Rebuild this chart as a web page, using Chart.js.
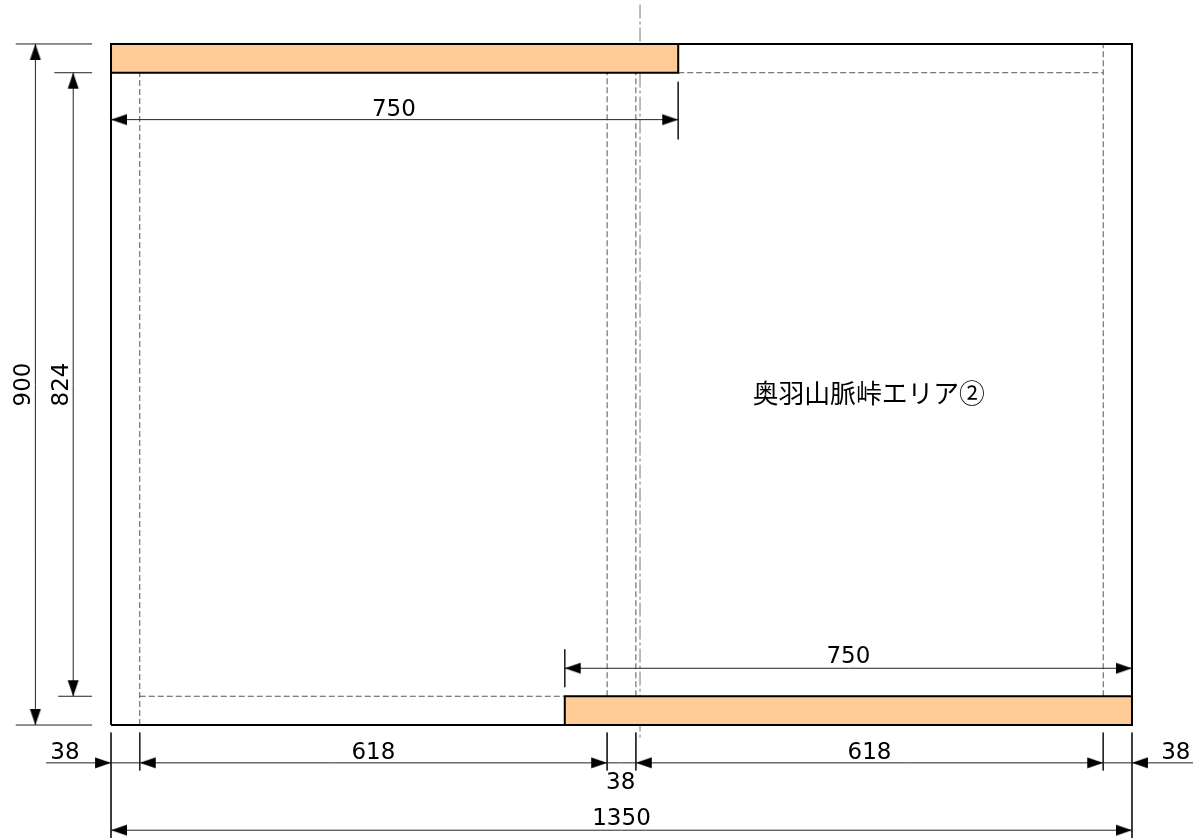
<!DOCTYPE html>
<html lang="ja">
<head>
<meta charset="utf-8">
<title>奥羽山脈峠エリア②</title>
<script src="https://cdn.jsdelivr.net/npm/chart.js@4/dist/chart.umd.min.js"></script>
<style>
    html, body { margin: 0; padding: 0; background: #fff; }
    canvas { display: block; }
</style>
</head>
<body>
<canvas id="plan" width="1193" height="838"></canvas>
<script>
// sizes, in mm
const totalWidth = 1350;
const totalHeight = 900;
const innerHeight_ = 824;
const flangeLength = 750;
const bayWidth = 618;
const edge = 38;
const areaName = '奥羽山脈峠エリア②';

const gapLeft = edge + bayWidth;
const gapRight = gapLeft + edge;
const rightInner = gapRight + bayWidth;
const topInner = edge + innerHeight_;
const centerLine = 699.5;

const seg = (x1, y1, x2, y2) => [{x: x1, y: y1}, {x: x2, y: y2}, {x: NaN, y: NaN}];
const path = (list) => list.flat();

const orangeTop = [
    {x: 0, y: topInner}, {x: flangeLength, y: topInner}, {x: flangeLength, y: totalHeight},
    {x: 0, y: totalHeight}, {x: 0, y: topInner},
];
const orangeBottom = [
    {x: totalWidth - flangeLength, y: 0}, {x: totalWidth, y: 0}, {x: totalWidth, y: edge},
    {x: totalWidth - flangeLength, y: edge}, {x: totalWidth - flangeLength, y: 0},
];
const outline = [
    {x: 0, y: 0}, {x: totalWidth, y: 0}, {x: totalWidth, y: totalHeight},
    {x: 0, y: totalHeight}, {x: 0, y: 0},
];

const hiddenLines = path([
    seg(edge, 0, edge, topInner),
    seg(edge, edge, totalWidth - flangeLength, edge),
    seg(flangeLength, topInner, rightInner, topInner),
    seg(rightInner, edge, rightInner, totalHeight),
    seg(gapLeft, edge, gapLeft, topInner),
    seg(gapRight, edge, gapRight, topInner),
]);
const chainLine = seg(centerLine, 952, centerLine, -20);

const dimLines = path([
    // left side
    seg(-100, 0, -100, totalHeight),
    seg(-126, totalHeight, -25, totalHeight),
    seg(-126, 0, -25, 0),
    seg(-50, edge, -50, topInner),
    seg(-75, topInner, -25, topInner),
    seg(-70, edge, -25, edge),
    // top and bottom 750
    seg(0, 800, flangeLength, 800),
    seg(flangeLength, 850, flangeLength, 774),
    seg(totalWidth - flangeLength, 75, totalWidth, 75),
    seg(totalWidth - flangeLength, 100, totalWidth - flangeLength, 50),
    // row under the plate
    seg(-86, -50, 1431, -50),
    seg(0, -10, 0, -150),
    seg(edge, -10, edge, -60),
    seg(gapLeft, -10, gapLeft, -60),
    seg(gapRight, -10, gapRight, -60),
    seg(rightInner, -10, rightInner, -60),
    seg(totalWidth, -10, totalWidth, -150),
    // overall width
    seg(0, -139, totalWidth, -139),
]);

const arrowPoints = [
    {x: -100, y: totalHeight, r: -90}, {x: -100, y: 0, r: 90},
    {x: -50, y: topInner, r: -90}, {x: -50, y: edge, r: 90},
    {x: 0, y: 800, r: 180}, {x: flangeLength, y: 800, r: 0},
    {x: totalWidth - flangeLength, y: 75, r: 180}, {x: totalWidth, y: 75, r: 0},
    {x: 0, y: -50, r: 0}, {x: edge, y: -50, r: 180},
    {x: gapLeft, y: -50, r: 0}, {x: gapRight, y: -50, r: 180},
    {x: rightInner, y: -50, r: 0}, {x: totalWidth, y: -50, r: 180},
    {x: 0, y: -139, r: 180}, {x: totalWidth, y: -139, r: 0},
];

// arrow head with its tip on the centre of the canvas, so the point sits on the tip
function makeArrow() {
    const c = document.createElement('canvas');
    c.width = 34;
    c.height = 34;
    const g = c.getContext('2d');
    g.fillStyle = '#000';
    g.beginPath();
    g.moveTo(17, 17);
    g.lineTo(1, 11.5);
    g.lineTo(1, 22.5);
    g.closePath();
    g.fill();
    return c;
}

const textLabels = [
    {text: String(flangeLength), x: flangeLength / 2 - 1, y: 812.5},
    {text: String(flangeLength), x: 975, y: 89.5},
    {text: String(bayWidth), x: edge + bayWidth / 2, y: -36.5},
    {text: String(bayWidth), x: gapRight + bayWidth / 2, y: -36.5},
    {text: String(edge), x: -61, y: -36.5},
    {text: String(edge), x: 674, y: -76.5},
    {text: String(edge), x: 1408, y: -36.5},
    {text: String(totalWidth), x: 675, y: -124.5},
    {text: String(totalHeight), x: -115.5, y: 450, rot: true},
    {text: String(innerHeight_), x: -64.5, y: 450, rot: true},
    {text: areaName, x: 1002, y: 439, big: true},
];

const labelPlugin = {
    id: 'labelPlugin',
    afterDatasetsDraw(chart) {
        const {ctx, scales: {x, y}} = chart;
        ctx.save();
        ctx.fillStyle = '#000';
        ctx.textAlign = 'center';
        ctx.textBaseline = 'middle';
        textLabels.forEach((l) => {
            ctx.save();
            ctx.translate(x.getPixelForValue(l.x), y.getPixelForValue(l.y));
            if (l.rot) ctx.rotate(-Math.PI / 2);
            ctx.font = l.big ? '25.8px "Noto Sans CJK JP"' : '23px "DejaVu Sans"';
            ctx.fillText(l.text, 0, 0);
            ctx.restore();
        });
        ctx.restore();
    },
};

const line = (data, width, color, dash) => ({
    data: data,
    showLine: true,
    spanGaps: false,
    borderWidth: width,
    borderColor: color,
    borderDash: dash || [],
    pointRadius: 0,
    fill: false,
});

new Chart(document.getElementById('plan'), {
    type: 'scatter',
    data: {
        datasets: [
            Object.assign({}, line(arrowPoints, 0, 'transparent'), {
                showLine: false,
                pointStyle: makeArrow(),
                pointRadius: 8,
                rotation: (c) => c.raw.r,
                order: 0,
            }),
            Object.assign(line(dimLines, 1, '#222'), {order: 1}),
            Object.assign(line(orangeTop, 2, '#000'), {fill: 'shape', backgroundColor: '#ffcb96', order: 2}),
            Object.assign(line(orangeBottom, 2, '#000'), {fill: 'shape', backgroundColor: '#ffcb96', order: 3}),
            Object.assign(line(outline, 2, '#000'), {order: 4}),
            Object.assign(line(hiddenLines, 1, '#555', [6, 3]), {order: 5}),
            Object.assign(line(chainLine, 1, '#777', [14, 3, 3, 3]), {order: 6}),
        ],
    },
    options: {
        responsive: false,
        animation: false,
        layout: {padding: 0, autoPadding: false},
        scales: {
            // ranges chosen so the plate lands where it does on the page
            x: {type: 'linear', display: false, min: -146.8, max: 1430.7},
            y: {type: 'linear', display: false, min: -149.3, max: 958.1},
        },
        plugins: {
            legend: {display: false},
            tooltip: {enabled: false},
        },
    },
    plugins: [labelPlugin],
});
</script>
</body>
</html>
